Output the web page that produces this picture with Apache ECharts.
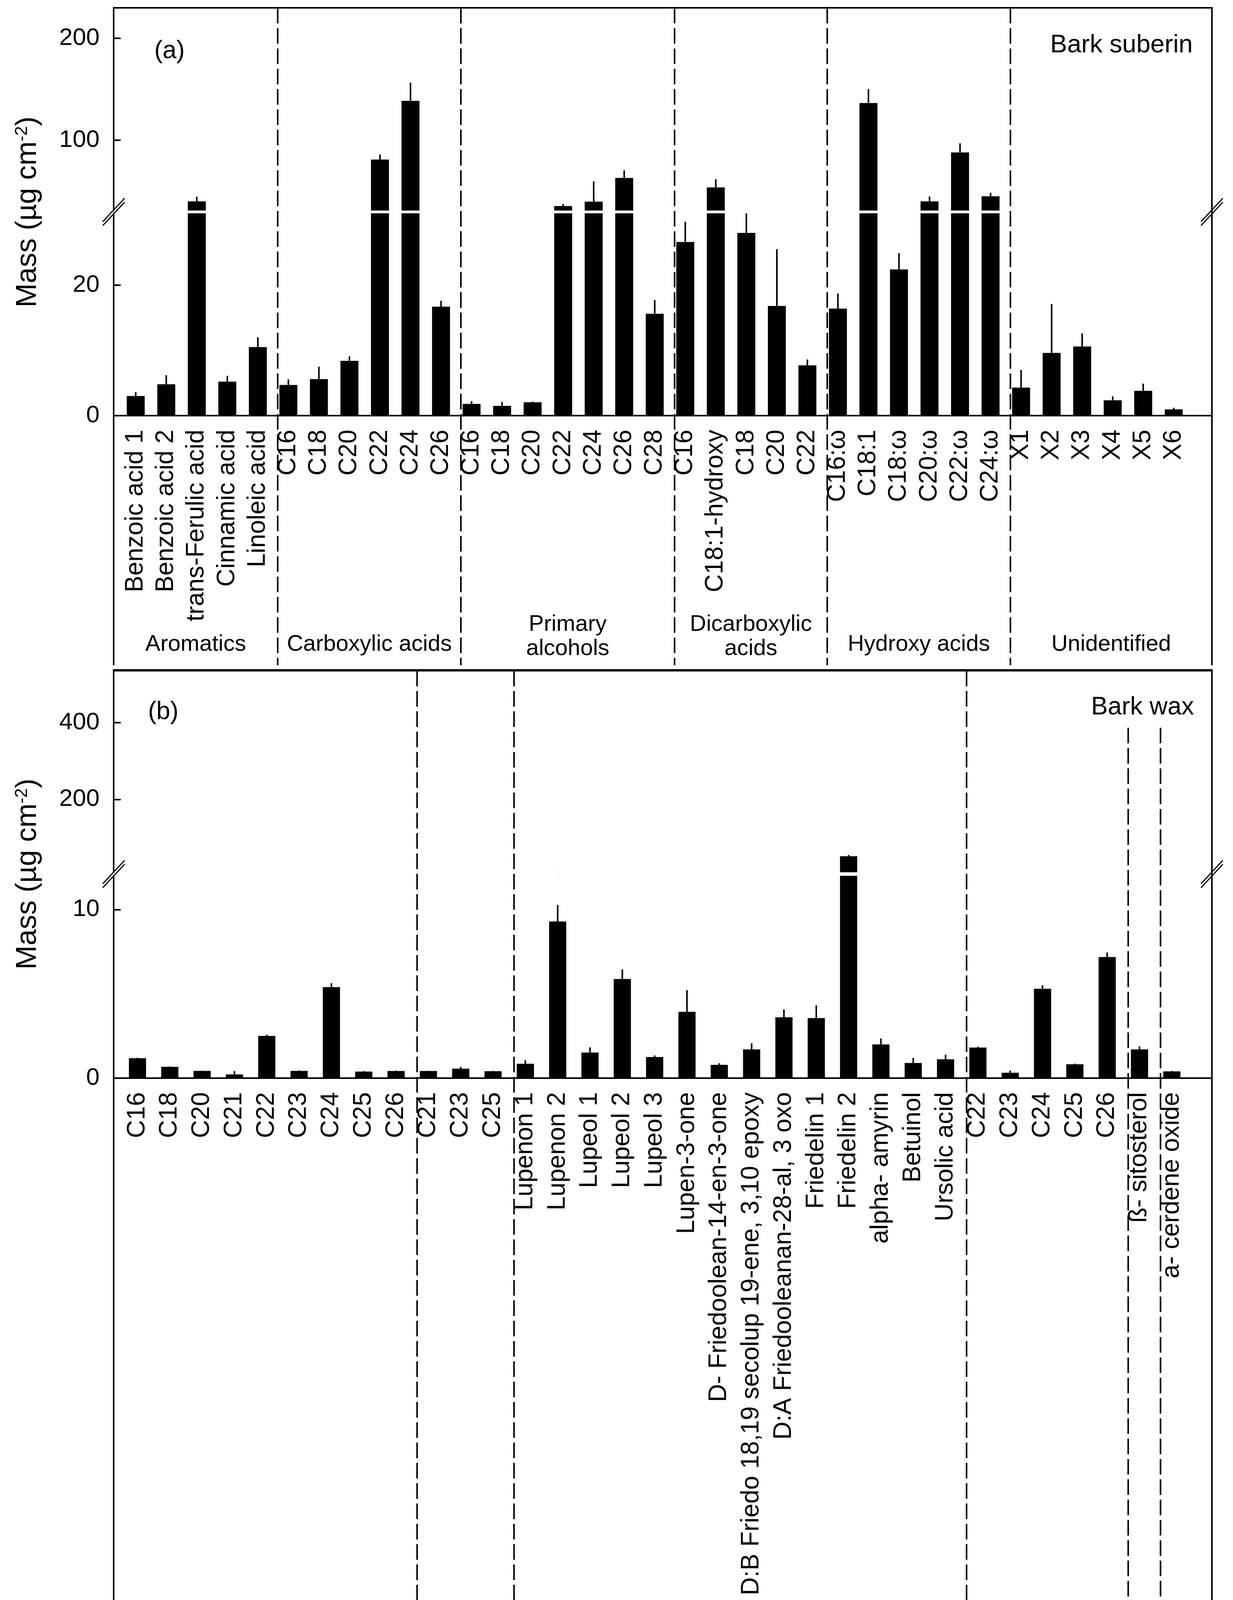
<!DOCTYPE html>
<html><head><meta charset="utf-8">
<script src="https://cdn.jsdelivr.net/npm/echarts@6/dist/echarts.min.js"></script>
<style>html,body{margin:0;padding:0;background:#fff}#c{width:3157px;height:4282px}</style>
</head><body><div id="c"></div>
<script>
// ---------------- DATA ----------------
// Panel (a) Bark suberin
const catsA = ['Benzoic acid 1','Benzoic acid 2','trans-Ferulic acid','Cinnamic acid','Linoleic acid',
  'C16','C18','C20','C22','C24','C26',
  'C16','C18','C20','C22','C24','C26','C28',
  'C16','C18:1-hydroxy','C18','C20','C22',
  'C16:ω','C18:1','C18:ω','C20:ω','C22:ω','C24:ω',
  'X1','X2','X3','X4','X5','X6'];
const massA = [3.0,4.8,40,5.2,10.5,
  4.7,5.6,8.4,81,138.6,16.7,
  1.8,1.5,2.05,35.4,39.7,63,15.6,
  26.6,53.7,28.0,16.8,7.7,
  16.4,136.5,22.4,40,88,45,
  4.3,9.6,10.6,2.35,3.8,0.96];
const errA = [0.6,1.4,4.5,0.9,1.5,
  0.85,1.9,0.7,5,18,0.9,
  0.4,0.6,0.1,2,20,7.5,2.1,
  3.1,8,3.1,8.7,0.9,
  2.3,13.7,2.5,4.8,9,3.5,
  2.7,7.5,2.0,0.6,1.1,0.25];
const groupsA = ['Aromatics','Carboxylic acids','Primary\nalcohols','Dicarboxylic\nacids','Hydroxy acids','Unidentified'];
const groupSizesA = [5,6,7,5,6,6];
const ticksA_low = [0,20];
const ticksA_up = [100,200];

// Panel (b) Bark wax
const catsB = ['C16','C18','C20','C21','C22','C23','C24','C25','C26',
  'C21','C23','C25',
  'Lupenon 1','Lupenon 2','Lupeol 1','Lupeol 2','Lupeol 3','Lupen-3-one','D- Friedoolean-14-en-3-one',
  'D:B Friedo 18,19 secolup 19-ene, 3,10 epoxy','D:A Friedooleanan-28-al, 3 oxo','Friedelin 1','Friedelin 2',
  'alpha- amyrin','Betuinol','Ursolic acid',
  'C22','C23','C24','C25','C26',
  'ß- sitosterol','a- cerdene oxide'];
const massB = [1.18,0.67,0.43,0.22,2.5,0.43,5.4,0.39,0.42,
  0.42,0.56,0.41,
  0.85,9.29,1.52,5.88,1.25,3.93,0.79,1.70,3.61,3.56,51.6,2.0,0.9,1.12,
  1.81,0.32,5.3,0.82,7.18,
  1.7,0.4];
const errB = [0.03,0.02,0.02,0.2,0.07,0.03,0.23,0.03,0.03,
  0.02,0.11,0.02,
  0.22,0.98,0.3,0.57,0.1,1.29,0.09,0.37,0.46,0.76,3.5,0.35,0.3,0.26,
  0.05,0.13,0.21,0.04,0.27,
  0.18,0.03];
const groupsB = ['Carboxylic acids','Alkanes','Triterpenes','Primary\nalcohols','',''];
const groupSizesB = [9,3,14,5,1,1];
const ticksB_low = [0,10];
const ticksB_up = [200,400];

// ---------------- LAYOUT / STYLE ----------------
const FONT = '"Liberation Sans", Arial, Helvetica, sans-serif';
const L = 291, R = 3103, W = 3157;
const panels = [
  {cats:catsA, vals:massA, errs:errA, groups:groupsA, sizes:groupSizesA,
   lowTicks:ticksA_low, upTicks:ticksA_up, lowMax:31, upMin:31, upMax:230,
   xmin:-0.723, xmax:35.25, top:20, upBottom:539, lowTop:546, axisY:1064, bottom:1703,
   barW:46, lab1:1650, lab2:1630, shortDiv:[]},
  {cats:catsB, vals:massB, errs:errB, groups:groupsB, sizes:groupSizesB,
   lowTicks:ticksB_low, upTicks:ticksB_up, lowMax:12, upMin:10, upMax:535,
   xmin:-0.737, xmax:33.24, top:1717, upBottom:2233, lowTop:2242, axisY:2760, bottom:4232,
   barW:44, lab1:4180, lab2:4187, shortDiv:[4,5], shortOff:146}
];

const grid = [], xAxis = [], yAxis = [], series = [];

function errRender(params, api) {
  const cs = params.coordSys;
  const x = api.value(0);
  const p1 = api.coord([x, api.value(1)]);
  const p2 = api.coord([x, api.value(2)]);
  const y1 = Math.min(p1[1], cs.y + cs.height);
  const y2 = Math.max(p2[1], cs.y);
  if (y2 >= y1) return null;
  return {type:'line', shape:{x1:p1[0], y1:y1, x2:p1[0], y2:y2}, style:{stroke:'#000', lineWidth:4}};
}

panels.forEach((P, pi) => {
  const g0 = grid.length;
  const n = P.cats.length;
  grid.push({left:L, right:W-R, top:P.top, height:P.upBottom-P.top, outerBoundsMode:'none', containLabel:false});
  grid.push({left:L, right:W-R, top:P.lowTop, height:P.axisY-P.lowTop, outerBoundsMode:'none', containLabel:false});
  grid.push({left:L, right:W-R, top:P.top, height:P.bottom-P.top, outerBoundsMode:'none', containLabel:false});
  const idx = [];
  for (let i = 0; i < n; i++) idx.push(i);
  xAxis.push({type:'value', gridIndex:g0, min:P.xmin, max:P.xmax, show:false});
  xAxis.push({type:'value', gridIndex:g0+1, min:P.xmin, max:P.xmax, position:'bottom',
    axisLine:{show:true, onZero:false, lineStyle:{color:'#000', width:4}},
    axisTick:{show:false}, splitLine:{show:false},
    axisLabel:{show:true, customValues:idx, rotate:90, margin:36, color:'#000',
      fontSize:64, fontFamily:FONT, formatter:(v)=>P.cats[Math.round(v)] || ''}});
  xAxis.push({type:'value', gridIndex:g0+2, min:P.xmin, max:P.xmax, show:false});
  const yCommon = {type:'value', position:'left', splitLine:{show:false},
    axisLine:{show:true, onZero:false, lineStyle:{color:'#000', width:4}}};
  yAxis.push(Object.assign({}, yCommon, {gridIndex:g0, min:P.upMin, max:P.upMax,
    axisTick:{show:true, inside:true, length:18, lineStyle:{color:'#000', width:4}, customValues:P.upTicks},
    axisLabel:{customValues:P.upTicks, color:'#000', fontSize:62, fontFamily:FONT, margin:36}}));
  yAxis.push(Object.assign({}, yCommon, {gridIndex:g0+1, min:0, max:P.lowMax,
    axisTick:{show:true, inside:true, length:18, lineStyle:{color:'#000', width:4}, customValues:P.lowTicks},
    axisLabel:{customValues:P.lowTicks, color:'#000', fontSize:62, fontFamily:FONT, margin:36}}));
  yAxis.push({type:'value', gridIndex:g0+2, min:0, max:1, show:false});

  const barData = P.vals.map((v, i) => [i, v]);
  const errData = P.vals.map((v, i) => [i, v, v + P.errs[i]]);
  [0, 1].forEach(k => {
    series.push({type:'bar', xAxisIndex:g0+k, yAxisIndex:g0+k, data:barData, barWidth:P.barW,
      clip:true, itemStyle:{color:'#000'}, silent:true, z:2});
    series.push({type:'custom', xAxisIndex:g0+k, yAxisIndex:g0+k, data:errData, clip:true,
      renderItem:errRender, silent:true, z:3});
  });

  const starts = [];
  let s = 0;
  P.sizes.forEach(sz => { starts.push(s); s += sz; });
  const divs = starts.slice(1).map(st => st - 0.35);
  const bounds = [P.xmin].concat(divs).concat([P.xmax]);
  const mids = P.groups.map((g, i) => (bounds[i] + bounds[i+1]) / 2);
  const divData = divs.map((d, i) => [d, P.shortDiv.indexOf(i+1) >= 0 ? 1 : 0]);
  series.push({type:'custom', xAxisIndex:g0+2, yAxisIndex:g0+2, data:divData, silent:true, z:4,
    renderItem:(params, api) => {
      const cs = params.coordSys;
      const x = api.coord([api.value(0), 0])[0];
      const top = cs.y + (api.value(1) ? P.shortOff : 0);
      return {type:'line', shape:{x1:x, y1:top, x2:x, y2:cs.y+cs.height},
        style:{stroke:'#000', lineWidth:4, lineDash:[40,12]}};
    }});
  series.push({type:'custom', xAxisIndex:g0+2, yAxisIndex:g0+2, data:mids.map(m => [m, 0]), silent:true, z:4,
    renderItem:(params, api) => {
      const name = P.groups[params.dataIndex];
      if (!name) return null;
      const x = api.coord([api.value(0), 0])[0];
      const two = name.indexOf('\n') >= 0;
      return {type:'text', x:x, y: two ? P.lab2 : P.lab1,
        style:{text:name, fontSize:58, fontFamily:FONT, fill:'#000', align:'center', verticalAlign:'middle', lineHeight:62}};
    }});
});

// ---------------- DECORATION (frame, breaks, texts) ----------------
function seg(x1,y1,x2,y2,w){return {type:'line', shape:{x1,y1,x2,y2}, style:{stroke:'#000', lineWidth:w||4}, z:10};}
function brk(cx, cy){
  return {type:'group', x:cx, y:cy, z:11, children:[
    {type:'polygon', shape:{points:[[-28,25],[28,-35],[28,-25],[-28,35]]}, style:{fill:'#fff'}},
    {type:'line', shape:{x1:-28, y1:25, x2:28, y2:-35}, style:{stroke:'#000', lineWidth:3}},
    {type:'line', shape:{x1:-28, y1:35, x2:28, y2:-25}, style:{stroke:'#000', lineWidth:3}}
  ]};
}
const PA = panels[0], PB = panels[1];
const graphic = [
  seg(L-2, PA.top, R+2, PA.top),
  seg(R, PA.top, R, PA.bottom),
  seg(L, PA.axisY, L, PA.bottom),
  seg(L-2, PB.top-1, R+2, PB.top-1, 6),
  seg(R, PB.top, R, PB.bottom),
  seg(L, PB.axisY, L, PB.bottom),
  brk(L, (PA.upBottom+PA.lowTop)/2), brk(R, (PA.upBottom+PA.lowTop)/2),
  brk(L, (PB.upBottom+PB.lowTop)/2), brk(R, (PB.upBottom+PB.lowTop)/2),
  {type:'text', x:434, y:131, z:12, style:{text:'(a)', fontSize:64, fontFamily:FONT, fill:'#000', align:'center', verticalAlign:'middle'}},
  {type:'text', x:3054, y:116, z:12, style:{text:'Bark suberin', fontSize:65, fontFamily:FONT, fill:'#000', align:'right', verticalAlign:'middle'}},
  {type:'text', x:418, y:1823, z:12, style:{text:'(b)', fontSize:64, fontFamily:FONT, fill:'#000', align:'center', verticalAlign:'middle'}},
  {type:'text', x:3057, y:1811, z:12, style:{text:'Bark wax', fontSize:64, fontFamily:FONT, fill:'#000', align:'right', verticalAlign:'middle'}}
];
[(PA.upBottom+PA.lowTop)/2, (PB.upBottom+PB.lowTop)/2].forEach(cy => {
  graphic.push({type:'text', x:72, y:cy, rotation:Math.PI/2, z:12,
    style:{text:'{m|Mass (µg cm}{s|-2}{m|)}', align:'center', verticalAlign:'middle',
      rich:{m:{fontSize:74, fontFamily:FONT, fill:'#000'}, s:{fontSize:44, fontFamily:FONT, fill:'#000', verticalAlign:'top'}}}});
});

const chart = echarts.init(document.getElementById('c'), null, {renderer:'canvas', width:3157, height:4282});
chart.setOption({backgroundColor:'#fff', animation:false, grid, xAxis, yAxis, series, graphic});
</script>
</body></html>
